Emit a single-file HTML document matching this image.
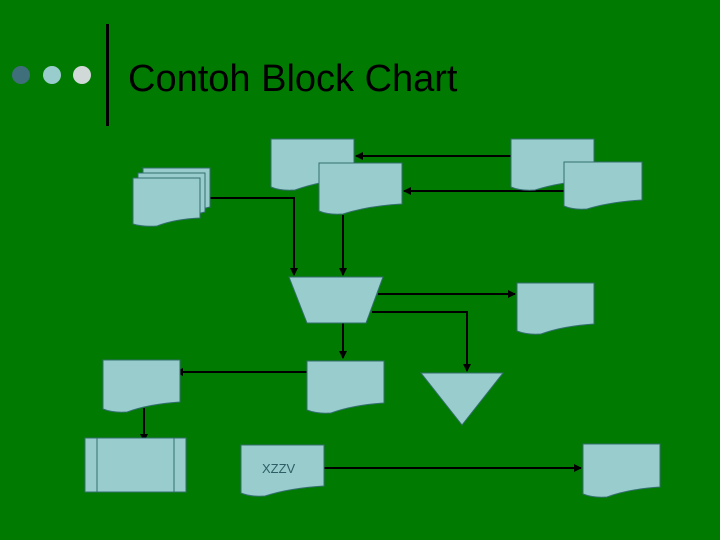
<!DOCTYPE html>
<html><head><style>html,body{margin:0;padding:0;background:#007a00;}svg{display:block}</style></head>
<body>
<svg width="720" height="540" viewBox="0 0 720 540" xmlns="http://www.w3.org/2000/svg">
<defs>
<marker id="a" markerWidth="8" markerHeight="8" refX="7" refY="4" orient="auto" markerUnits="userSpaceOnUse">
<path d="M0,0 L8,4 L0,8 Z" fill="#000"/></marker>
</defs>
<rect width="720" height="540" fill="#007a00"/>
<circle cx="21" cy="75" r="9" fill="#3f6f7a"/>
<circle cx="52" cy="75" r="9" fill="#99cccc"/>
<circle cx="82" cy="75" r="9" fill="#d0d8d8"/>
<rect x="106" y="24" width="3" height="102" fill="#000"/>
<text x="128" y="91" font-family="Liberation Sans, sans-serif" font-size="38" fill="#000">Contoh Block Chart</text>
<g stroke="#000" stroke-width="2" fill="none">
<path d="M511,156 H356" marker-end="url(#a)"/>
<path d="M565,191 H404" marker-end="url(#a)"/>
<path d="M210,198 H294 V275" marker-end="url(#a)"/>
<path d="M343,215 V275" marker-end="url(#a)"/>
<path d="M378,294 H515" marker-end="url(#a)"/>
<path d="M372,312 H467 V371" marker-end="url(#a)"/>
<path d="M343,323 V358" marker-end="url(#a)"/>
<path d="M307,372 H176" marker-end="url(#a)"/>
<path d="M144,408 V441" marker-end="url(#a)"/>
<path d="M324,468 H581" marker-end="url(#a)"/>
</g>
<g fill="#99cccc" stroke="#336f70" stroke-width="1">
<!-- docs: M x y H x+w V y+h-11 Q ... -->
<path d="M271,139 H354 V178 Q320,181 295,190 Q280,191 271,187 Z"/>
<path d="M319,163 H402 V204 Q368,206 343,214 Q328,215 319,211 Z"/>
<path d="M511,139 H594 V180 Q560,182 535,190 Q520,191 511,187 Z"/>
<path d="M564,162 H642 V200 Q610,202 587,209 Q573,210 564,206 Z"/>
<path d="M143,168 H210 V207 Z" />
<path d="M143,168 H210 V207 Q190,212 170,216 L143,216 Z"/>
<path d="M138,173 H205 V212 Q185,217 165,221 L138,221 Z"/>
<path d="M133,178 H200 V218 Q175,219 157,226 Q143,227 133,224 Z"/>
<path d="M517,283 H594 V324 Q563,326 541,334 Q527,335 517,331 Z"/>
<path d="M103,360 H180 V402 Q149,404 127,412 Q113,413 103,409 Z"/>
<path d="M307,361 H384 V403 Q353,405 331,413 Q317,414 307,410 Z"/>
<path d="M241,445 H324 V486 Q290,488 265,496 Q250,497 241,493 Z"/>
<path d="M583,444 H660 V487 Q629,489 607,497 Q593,498 583,494 Z"/>
<path d="M289,277 H383 L366,323 H307 Z"/>
<path d="M421,373 H503 L462,425 Z"/>
<rect x="85" y="438" width="101" height="54"/>
<line x1="97" y1="438" x2="97" y2="492"/>
<line x1="174" y1="438" x2="174" y2="492"/>
</g>
<text x="262" y="473" font-family="Liberation Sans, sans-serif" font-size="13" fill="#2f5f66">XZZV</text>
</svg>
</body></html>
